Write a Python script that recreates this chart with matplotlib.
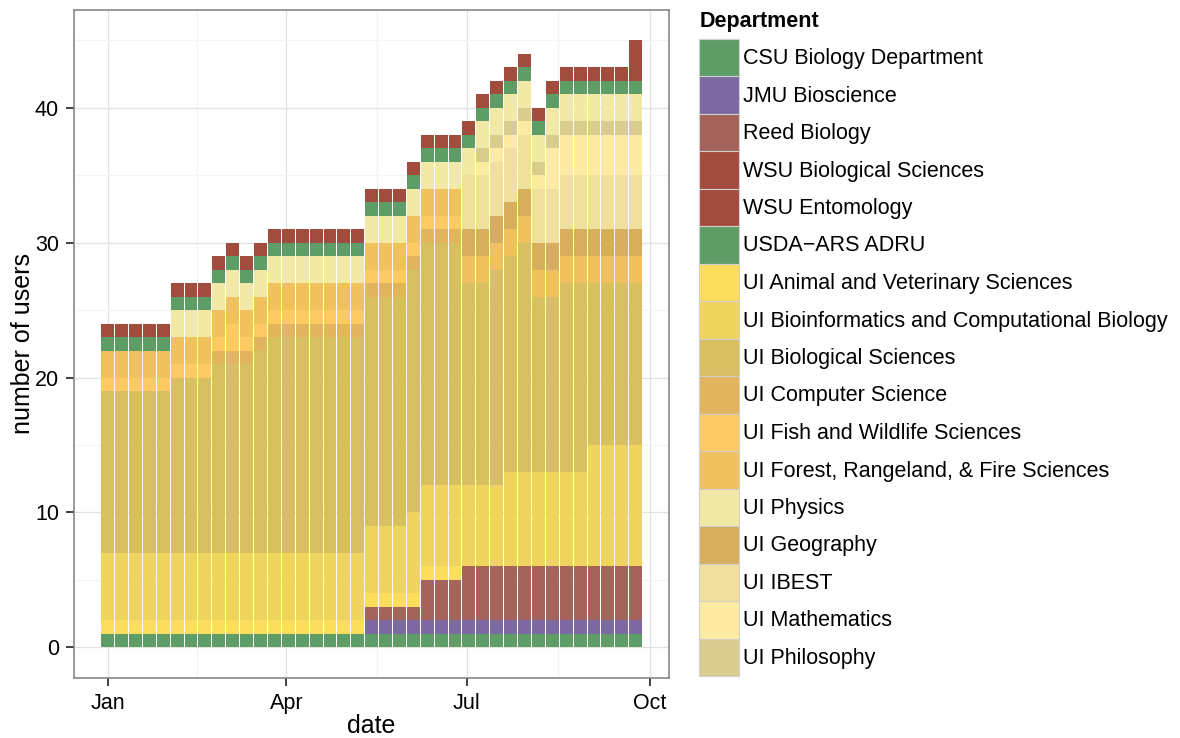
import matplotlib
matplotlib.use("Agg")
import matplotlib.pyplot as plt
import matplotlib.dates as mdates
from matplotlib.patches import Rectangle
import numpy as np
import pandas as pd

plt.rcParams['font.family'] = ['Liberation Sans', 'DejaVu Sans']

# ---------------- data ----------------
week_start = "2014-01-01"
n_weeks = 39
dates = pd.date_range(week_start, periods=n_weeks, freq="7D")

csu        = [1,1,1,1,1, 1,1,1,1,1, 1,1,1,1,1, 1,1,1,1,1, 1,1,1,1,1, 1,1,1,1,1, 1,1,1,1,1, 1,1,1,1]
jmu        = [0,0,0,0,0, 0,0,0,0,0, 0,0,0,0,0, 0,0,0,0,1, 1,1,1,1,1, 1,1,1,1,1, 1,1,1,1,1, 1,1,1,1]
reed       = [0,0,0,0,0, 0,0,0,0,0, 0,0,0,0,0, 0,0,0,0,1, 1,1,1,3,3, 3,4,4,4,4, 4,4,4,4,4, 4,4,4,4]
wsu_bio    = [1,1,1,1,1, 1,1,1,1,1, 1,1,1,1,1, 1,1,1,1,1, 1,1,1,1,1, 1,1,1,1,1, 1,1,1,1,1, 1,1,1,1]
wsu_ento   = [0,0,0,0,0, 0,0,0,0,0, 0,0,0,0,0, 0,0,0,0,0, 0,0,0,0,0, 0,0,0,0,0, 0,0,0,0,0, 0,0,0,2]
usda       = [1,1,1,1,1, 1,1,1,1,1, 1,1,1,1,1, 1,1,1,1,1, 1,1,1,1,1, 1,1,1,1,1, 1,1,1,1,1, 1,1,1,1]
animal     = [1,1,1,1,1, 1,1,1,1,1, 1,1,1,1,1, 1,1,1,1,1, 1,1,1,1,1, 1,0,0,0,0, 0,0,0,0,0, 0,0,0,0]
bioinf     = [5,5,5,5,5, 5,5,5,5,5, 5,5,5,5,5, 5,5,5,5,5, 5,5,6,6,6, 6,6,6,6,7, 7,7,7,7,7, 9,9,9,9]
biosci     = [12,12,12,12,12, 13,13,13,14,14, 14,15,16,16,16, 16,16,16,16,17,
              17,17,18,18,18, 18,15,15,16,16, 17,13,13,14,14, 12,12,12,12]
compsci    = [0,0,0,0,0, 0,0,0,1,1, 1,1,1,1,1, 1,1,1,1,1, 1,1,1,1,1, 1,0,0,0,0, 0,0,0,0,0, 0,0,0,0]
fish       = [1,1,1,1,1, 1,1,1,1,2, 1,1,1,1,1, 1,1,1,1,1, 1,1,1,1,1, 1,0,0,0,0, 0,0,0,0,0, 0,0,0,0]
forest     = [2,2,2,2,2, 2,2,2,2,2, 2,2,2,2,2, 2,2,2,2,2, 2,2,2,2,2, 2,2,2,2,2, 2,2,2,2,2, 2,2,2,2]
physics    = [0,0,0,0,0, 2,2,2,2,2, 2,2,2,2,2, 2,2,2,2,2, 2,2,2,2,2, 2,2,2,2,2, 2,2,2,2,2, 2,2,2,2]
geography  = [0,0,0,0,0, 0,0,0,0,0, 0,0,0,0,0, 0,0,0,0,0, 0,0,0,0,0, 0,2,2,2,2, 2,2,2,2,2, 2,2,2,2]
ibest      = [0,0,0,0,0, 0,0,0,0,0, 0,0,0,0,0, 0,0,0,0,0, 0,0,0,0,0, 0,4,4,4,4, 4,4,4,4,4, 4,4,4,4]
math_      = [0,0,0,0,0, 0,0,0,0,0, 0,0,0,0,0, 0,0,0,0,0, 0,0,0,0,0, 0,0,1,1,1, 1,1,3,3,3, 3,3,3,3]
philosophy = [0,0,0,0,0, 0,0,0,0,0, 0,0,0,0,0, 0,0,0,0,0, 0,0,0,0,0, 0,0,1,1,1, 1,1,1,1,1, 1,1,1,1]

departments = [
    "CSU Biology Department", "JMU Bioscience", "Reed Biology",
    "WSU Biological Sciences", "WSU Entomology", "USDA\u2212ARS ADRU",
    "UI Animal and Veterinary Sciences",
    "UI Bioinformatics and Computational Biology",
    "UI Biological Sciences", "UI Computer Science",
    "UI Fish and Wildlife Sciences", "UI Forest, Rangeland, & Fire Sciences",
    "UI Physics", "UI Geography", "UI IBEST", "UI Mathematics", "UI Philosophy",
]
values = {
    "CSU Biology Department": csu, "JMU Bioscience": jmu, "Reed Biology": reed,
    "WSU Biological Sciences": wsu_bio, "WSU Entomology": wsu_ento,
    "USDA\u2212ARS ADRU": usda,
    "UI Animal and Veterinary Sciences": animal,
    "UI Bioinformatics and Computational Biology": bioinf,
    "UI Biological Sciences": biosci, "UI Computer Science": compsci,
    "UI Fish and Wildlife Sciences": fish,
    "UI Forest, Rangeland, & Fire Sciences": forest,
    "UI Physics": physics, "UI Geography": geography, "UI IBEST": ibest,
    "UI Mathematics": math_, "UI Philosophy": philosophy,
}
colors = {
    "CSU Biology Department": "#5E9E66", "JMU Bioscience": "#7D69A2",
    "Reed Biology": "#A4645B", "WSU Biological Sciences": "#A24C3D",
    "WSU Entomology": "#A24C3D", "USDA\u2212ARS ADRU": "#5E9E66",
    "UI Animal and Veterinary Sciences": "#FDDE5C",
    "UI Bioinformatics and Computational Biology": "#F0D460",
    "UI Biological Sciences": "#D7BF62", "UI Computer Science": "#E1B55E",
    "UI Fish and Wildlife Sciences": "#FDCA63",
    "UI Forest, Rangeland, & Fire Sciences": "#F0C25D",
    "UI Physics": "#F3E9A6", "UI Geography": "#D6AE5D", "UI IBEST": "#F1E09D",
    "UI Mathematics": "#FDEBA3", "UI Philosophy": "#D9CC8F",
}
# stacking order, bottom to top
stack_order = [
    "CSU Biology Department", "JMU Bioscience", "Reed Biology",
    "UI Animal and Veterinary Sciences",
    "UI Bioinformatics and Computational Biology",
    "UI Biological Sciences", "UI Computer Science",
    "UI Fish and Wildlife Sciences", "UI Forest, Rangeland, & Fire Sciences",
    "UI Geography", "UI IBEST", "UI Mathematics", "UI Philosophy", "UI Physics",
    "USDA\u2212ARS ADRU", "WSU Biological Sciences", "WSU Entomology",
]
y_ticks = [0, 10, 20, 30, 40]
x_tick_dates = ["2014-01-01", "2014-04-01", "2014-07-01", "2014-10-01"]
x_tick_labels = ["Jan", "Apr", "Jul", "Oct"]

# ---------------- figure ----------------
W, H = 1180, 738
fig = plt.figure(figsize=(W / 100, H / 100), dpi=100)
left, right, top, bot = 74.3, 669.0, 10.0, 677.7
ax = fig.add_axes([left / W, 1 - bot / H, (right - left) / W, (bot - top) / H])

x = mdates.date2num(dates)
bottom = np.zeros(n_weeks)
for name in stack_order:
    v = np.array(values[name], dtype=float)
    ax.bar(x, v, width=6.5, bottom=bottom, color=colors[name],
           linewidth=0, zorder=2)
    bottom += v

x0 = mdates.date2num(pd.Timestamp(week_start))
ax.set_xlim(x0 - 16.8, x0 + 282.8)
ax.set_ylim(-2.25, 47.25)

xt = mdates.date2num(pd.to_datetime(x_tick_dates))
ax.set_xticks(xt)
ax.set_xticklabels(x_tick_labels)
ax.set_xticks([(xt[i] + xt[i + 1]) / 2 for i in range(len(xt) - 1)], minor=True)
ax.set_yticks(y_ticks)
ax.set_yticks([5, 15, 25, 35, 45], minor=True)

ax.set_axisbelow(True)
ax.grid(which="major", color="#E2E2E2", linewidth=0.9, zorder=0)
ax.grid(which="minor", color="#F3F3F3", linewidth=0.9, zorder=0)
for s in ax.spines.values():
    s.set_color("#7F7F7F")
    s.set_linewidth(1.1)
ax.tick_params(which="major", length=6, width=1.3, color="#333333",
               labelsize=15.5, pad=5, labelcolor="black")
ax.tick_params(which="minor", length=0)

# axis titles placed as in the reference
fig.text(371 / W, 1 - 726 / H, "date", fontsize=18, ha="center", va="center")
fig.text(23 / W, 1 - 344 / H, "number of users", fontsize=18, rotation=90,
         ha="center", va="center")

# ---------------- legend (manual, ggplot style) ----------------
fig.text(700 / W, 1 - 21 / H, "Department", fontsize=15.5, fontweight="bold",
         ha="left", va="center")
row_h = 37.5
for i, name in enumerate(departments):
    yc = 57.5 + row_h * i
    rect = Rectangle((699 / W, 1 - (yc + row_h / 2) / H), 40 / W, row_h / H,
                     transform=fig.transFigure, facecolor=colors[name],
                     edgecolor="#D0D0D0", linewidth=0.8)
    fig.patches.append(rect)
    fig.text(743 / W, 1 - (yc + 1) / H, name, fontsize=15.5, ha="left",
             va="center")

fig.savefig("out.png", dpi=100)
